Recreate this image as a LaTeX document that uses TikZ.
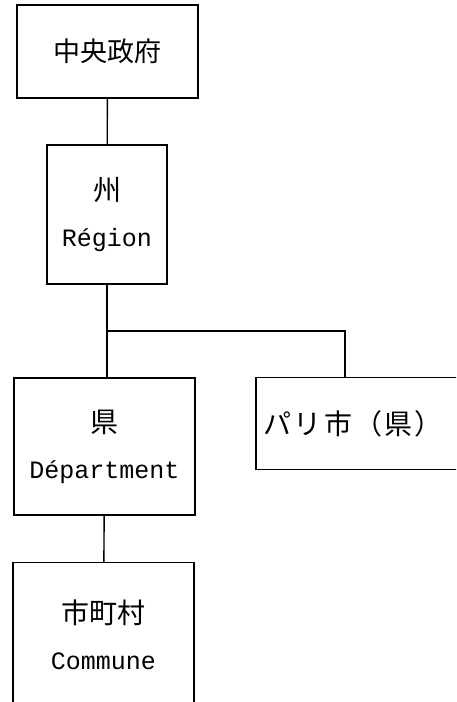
\documentclass[tikz,border=0pt]{standalone}
\usepackage{fontspec}
\setmainfont{Liberation Mono}
\newfontfamily\jp{Noto Sans CJK JP}
\tikzset{orgbox/.style={draw,line width=1.5pt,inner sep=0pt,align=center,font=\fontsize{25}{46}\selectfont}}
\begin{document}
\begin{tikzpicture}[x=1pt,y=1pt,line width=1.4pt]
\useasboundingbox (0,0) rectangle (456,702);
\clip (0,0) rectangle (456,702);
\node[orgbox,minimum width=181,minimum height=93] (govt) at (107.5,650.5) {\jp\fontsize{27}{46}\selectfont 中央政府};
\node[orgbox,minimum width=120,minimum height=139] (region) at (107,487.5) {{\jp\fontsize{28}{46}\selectfont 州}\\Région};
\node[orgbox,minimum width=181,minimum height=137] (dept) at (104.5,255.5) {{\jp\fontsize{28}{46}\selectfont 県}\\Départment};
\node[orgbox,anchor=north west,text width=200,inner xsep=8,minimum height=92,align=left] (paris) at (255,325) {\jp\fontsize{28}{46}\selectfont\addfontfeature{LetterSpace=8} パリ市（県）};
\node[orgbox,anchor=north,minimum width=181,minimum height=145] (commune) at (103.5,140) {{\jp\fontsize{28}{46}\selectfont 市町村}\\Commune};
\coordinate (junc) at (region.south |- 0,371);
\coordinate (pjoin) at (345,371);
\draw (govt) -- (region);
\draw (region) -- (junc) -- (junc |- dept.north);
\draw (junc) -- (pjoin) -- (pjoin |- paris.north);
\draw (dept) -- (commune);
\end{tikzpicture}
\end{document}
